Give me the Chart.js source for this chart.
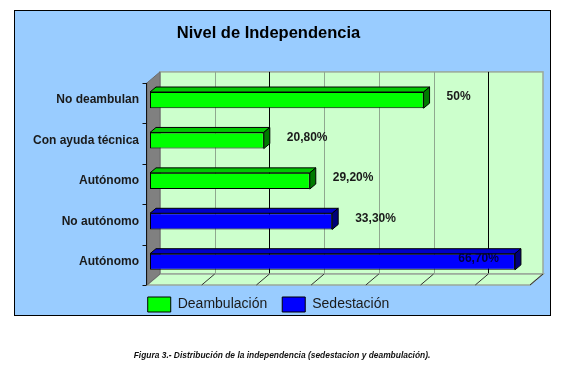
<!DOCTYPE html>
<html><head><meta charset="utf-8">
<script src="https://cdn.jsdelivr.net/npm/chart.js@4/dist/chart.umd.min.js"></script>
<style>html,body{margin:0;padding:0;background:#fff;}#wrap{width:568px;height:375px;position:relative}</style>
</head><body><div id="wrap"><canvas id="c" width="568" height="375"></canvas></div>
<script>
const categories = ['No deambulan', 'Con ayuda técnica', 'Autónomo', 'No autónomo', 'Autónomo'];
const deambulacion = [50, 20.8, 29.2, null, null];
const sedestacion = [null, null, null, 33.3, 66.7];
const seriesNames = ['Deambulación', 'Sedestación'];
const xTicks = [0, 10, 20, 30, 40, 50, 60, 70];
const chartTitle = 'Nivel de Independencia';
const caption = 'Figura 3.- Distribución de la independencia (sedestacion y deambulación).';

const FONT = "'Liberation Sans', Arial, sans-serif";
Chart.defaults.font.family = FONT;

const F = {dx: -3, dy: 3};   // front plane offset
const B = {dx: 10, dy: -8};  // back plane offset
const gridColors = ['#8fa88f', '#000000', '#8fa88f', '#8fa88f', '#8fa88f', '#000000'];
const faceColors = {
  '#00ff00': {top: '#00c800', side: '#007a00'},
  '#0000ff': {top: '#0000c8', side: '#00007a'}
};

function fmt(v) {
  return Number.isInteger(v) ? v + '%' : v.toFixed(2).replace('.', ',') + '%';
}

const scene = {
  id: 'scene3d',
  beforeDraw(chart) {
    const ctx = chart.ctx;
    ctx.save();
    ctx.fillStyle = '#ffffff';
    ctx.fillRect(0, 0, chart.width, chart.height);
    ctx.fillStyle = '#99ccff';
    ctx.fillRect(14, 10, 537, 306);
    ctx.strokeStyle = '#000';
    ctx.lineWidth = 1;
    ctx.strokeRect(14.5, 10.5, 536, 305);
    ctx.restore();
  },
  beforeDatasetsDraw(chart) {
    const ctx = chart.ctx, a = chart.chartArea, xs = chart.scales.x;
    const x0 = xs.getPixelForValue(xTicks[0]);
    const x1 = xs.getPixelForValue(xTicks[xTicks.length - 1]);
    ctx.save();
    ctx.lineWidth = 1;
    // back wall
    ctx.fillStyle = '#ccffcc';
    ctx.fillRect(x0 + B.dx, a.top + B.dy, x1 - x0, a.bottom - a.top);
    ctx.strokeStyle = '#9aa89a';
    ctx.lineWidth = 1.5;
    ctx.strokeRect(x0 + B.dx, a.top + B.dy, x1 - x0, a.bottom - a.top);
    ctx.lineWidth = 1;
    // grid lines on back wall
    xTicks.slice(1, -1).forEach((v, i) => {
      const px = Math.round(xs.getPixelForValue(v) + B.dx) + 0.5;
      ctx.strokeStyle = gridColors[i % gridColors.length];
      ctx.beginPath();
      ctx.moveTo(px, a.top + B.dy);
      ctx.lineTo(px, a.bottom + B.dy);
      ctx.stroke();
    });
    // floor
    ctx.fillStyle = '#ccffcc';
    ctx.strokeStyle = '#9aa89a';
    ctx.lineWidth = 1.5;
    ctx.beginPath();
    ctx.moveTo(x0 + F.dx, a.bottom + F.dy);
    ctx.lineTo(x1 + F.dx, a.bottom + F.dy);
    ctx.lineTo(x1 + B.dx, a.bottom + B.dy);
    ctx.lineTo(x0 + B.dx, a.bottom + B.dy);
    ctx.closePath();
    ctx.fill();
    ctx.stroke();
    ctx.lineWidth = 1;
    ctx.strokeStyle = '#333';
    xTicks.slice(1).forEach(v => {
      const px = xs.getPixelForValue(v);
      ctx.beginPath();
      ctx.moveTo(px + F.dx, a.bottom + F.dy);
      ctx.lineTo(px + B.dx, a.bottom + B.dy);
      ctx.stroke();
    });
    // left wall
    ctx.fillStyle = '#808080';
    ctx.strokeStyle = '#6a6a6a';
    ctx.beginPath();
    ctx.moveTo(x0 + F.dx, a.top + F.dy);
    ctx.lineTo(x0 + B.dx, a.top + B.dy);
    ctx.lineTo(x0 + B.dx, a.bottom + B.dy);
    ctx.lineTo(x0 + F.dx, a.bottom + F.dy);
    ctx.closePath();
    ctx.fill();
    ctx.stroke();
    // axis line and ticks
    const ax = Math.round(x0 + F.dx) - 0.5;
    ctx.strokeStyle = '#111';
    ctx.beginPath();
    ctx.moveTo(ax, a.top + F.dy);
    ctx.lineTo(ax, a.bottom + F.dy);
    const n = categories.length, band = (a.bottom - a.top) / n;
    for (let k = 0; k <= n; k++) {
      const py = Math.round(a.top + k * band + F.dy) + 0.5;
      ctx.moveTo(ax - 4, py);
      ctx.lineTo(ax, py);
    }
    ctx.stroke();
    ctx.restore();
  },
  afterDatasetsDraw(chart) {
    const ctx = chart.ctx, a = chart.chartArea;
    ctx.save();
    chart.data.datasets.forEach((ds, di) => {
      const meta = chart.getDatasetMeta(di);
      const fc = faceColors[ds.backgroundColor];
      meta.data.forEach((el, i) => {
        const v = ds.data[i];
        if (v === null || v === undefined) return;
        const p = el.getProps(['x', 'y', 'base', 'height'], true);
        const top = p.y - p.height / 2, bot = p.y + p.height / 2;
        const dx = 6, dy = 5;
        ctx.lineWidth = 1;
        ctx.strokeStyle = '#000';
        ctx.fillStyle = fc.top;
        ctx.beginPath();
        ctx.moveTo(p.base, top);
        ctx.lineTo(p.base + dx, top - dy);
        ctx.lineTo(p.x + dx, top - dy);
        ctx.lineTo(p.x, top);
        ctx.closePath();
        ctx.fill(); ctx.stroke();
        ctx.fillStyle = fc.side;
        ctx.beginPath();
        ctx.moveTo(p.x, top);
        ctx.lineTo(p.x + dx, top - dy);
        ctx.lineTo(p.x + dx, bot - dy);
        ctx.lineTo(p.x, bot);
        ctx.closePath();
        ctx.fill(); ctx.stroke();
        // value label
        const txt = fmt(v);
        ctx.font = 'bold 12px ' + FONT;
        ctx.fillStyle = '#1a1a1a';
        ctx.textBaseline = 'middle';
        const w = ctx.measureText(txt).width;
        if (p.x + 23 + w > a.right) {
          ctx.textAlign = 'right';
          ctx.fillStyle = '#000040';
          ctx.fillText(txt, p.x - 16, p.y - 3);
        } else {
          ctx.textAlign = 'left';
          ctx.fillText(txt, p.x + 23, p.y - 3);
        }
      });
    });
    ctx.restore();
  },
  afterDraw(chart) {
    const ctx = chart.ctx;
    ctx.save();
    ctx.font = 'italic bold 9px ' + FONT;
    const w9 = ctx.measureText(caption).width;
    const size = 9 * 297 / w9;
    ctx.font = 'italic bold ' + size.toFixed(2) + 'px ' + FONT;
    ctx.fillStyle = '#111';
    ctx.textAlign = 'center';
    ctx.textBaseline = 'middle';
    ctx.fillText(caption, 282, 356);
    ctx.restore();
  }
};

new Chart(document.getElementById('c'), {
  type: 'bar',
  data: {
    labels: categories,
    datasets: [
      {label: seriesNames[0], data: deambulacion, backgroundColor: '#00ff00', borderColor: '#000', borderWidth: 1, borderSkipped: false},
      {label: seriesNames[1], data: sedestacion, backgroundColor: '#0000ff', borderColor: '#000', borderWidth: 1, borderSkipped: false}
    ]
  },
  options: {
    indexAxis: 'y',
    responsive: false,
    devicePixelRatio: 1,
    animation: false,
    barPercentage: 0.4,
    categoryPercentage: 1.0,
    layout: {padding: {left: 4, right: 35, top: 0, bottom: 53}},
    scales: {
      x: {type: 'linear', min: xTicks[0], max: xTicks[xTicks.length - 1], stacked: true, display: false},
      y: {
        type: 'category', stacked: true, offset: true,
        grid: {display: false, drawTicks: false}, border: {display: false},
        ticks: {padding: 11, color: '#1a1a1a', font: {size: 12, weight: 'bold', family: FONT}},
        afterFit(s) { s.width = 146; }
      }
    },
    plugins: {
      title: {display: true, text: chartTitle, color: '#000', font: {size: 16.5, weight: 'bold', family: FONT}, padding: {top: 23.5, bottom: 36.6}},
      legend: {
        position: 'bottom',
        labels: {boxWidth: 23, boxHeight: 15, padding: 15, color: '#1a1a1a', font: {size: 14, family: FONT}}
      },
      tooltip: {enabled: false}
    }
  },
  plugins: [scene]
});
</script>
</body></html>
